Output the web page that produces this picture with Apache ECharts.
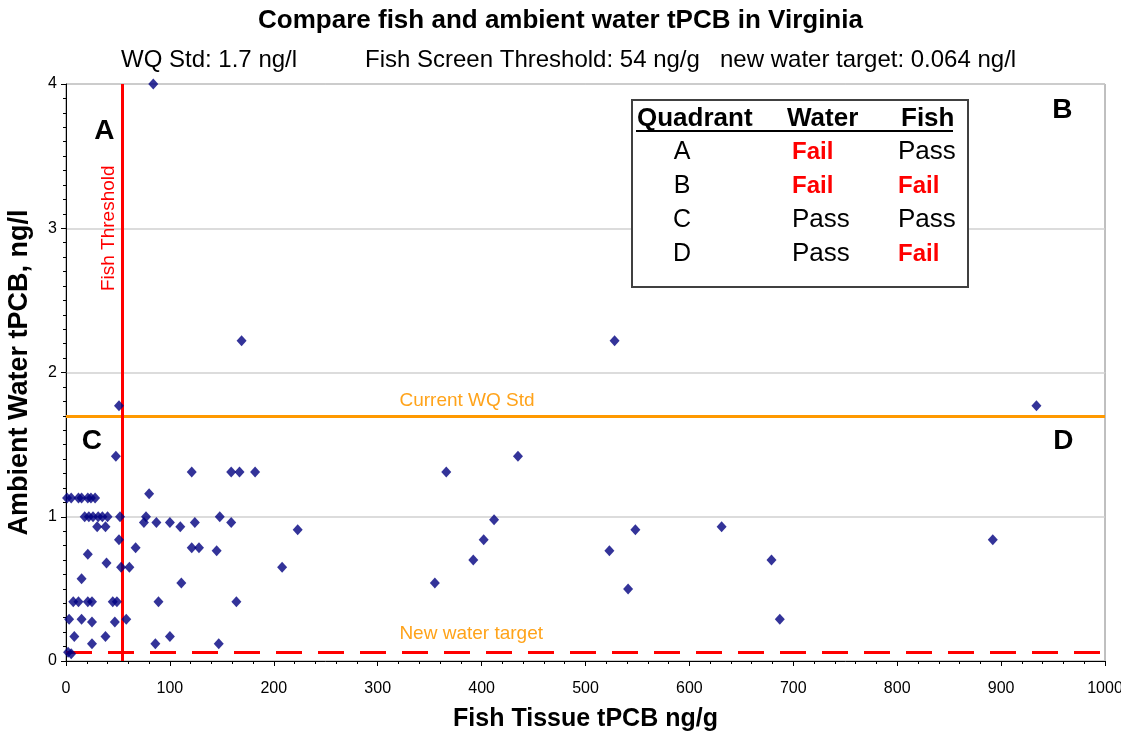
<!DOCTYPE html>
<html>
<head>
<meta charset="utf-8">
<title>Compare fish and ambient water tPCB in Virginia</title>
<script src="https://cdn.jsdelivr.net/npm/echarts@6/dist/echarts.min.js"></script>
<style>
  html, body { margin: 0; padding: 0; background: #fff; }
  #chart { width: 1121px; height: 738px; }
</style>
</head>
<body>
<div id="chart"></div>
<script>
// fish tissue tPCB (ng/g) and ambient water tPCB (ng/l), one pair per site
const fishTissue = [
  84, 169, 528, 51, 934, 48, 435, 121, 159, 167, 182, 366, 80,
  1, 5, 12, 15, 21, 24, 28,
  18, 22, 26, 31, 35, 40, 52, 77, 148, 412,
  75, 87, 100, 124, 159,
  30, 38, 110, 631,
  223, 548,
  51, 402, 892,
  67, 121, 128,
  145, 523,
  21, 392, 679, 39,
  53, 61, 208,
  15, 111, 355, 541,
  7, 12, 21, 25, 45, 49, 89, 164,
  3, 15, 58, 687, 25, 47,
  8, 38, 100,
  25, 86, 147,
  2, 5
];
const waterTpcb = [
  4.0, 2.22, 2.22, 1.77, 1.77, 1.42, 1.42, 1.31, 1.31, 1.31, 1.31, 1.31, 1.16,
  1.13, 1.13, 1.13, 1.13, 1.13, 1.13, 1.13,
  1.0, 1.0, 1.0, 1.0, 1.0, 1.0, 1.0, 1.0, 1.0, 0.98,
  0.96, 0.96, 0.96, 0.96, 0.96,
  0.93, 0.93, 0.93, 0.93,
  0.91, 0.91,
  0.84, 0.84, 0.84,
  0.785, 0.785, 0.785,
  0.765, 0.765,
  0.74, 0.70, 0.70, 0.68,
  0.65, 0.65, 0.65,
  0.57, 0.54, 0.54, 0.50,
  0.41, 0.41, 0.41, 0.41, 0.41, 0.41, 0.41, 0.41,
  0.29, 0.29, 0.29, 0.29, 0.27, 0.27,
  0.17, 0.17, 0.17,
  0.12, 0.12, 0.12,
  0.06, 0.05
];

const wqStd = 1.7;          // ng/l
const fishThreshold = 54;   // ng/g
const waterTarget = 0.064;  // ng/l

const xTicks = { min: 0, max: 1000, interval: 100 };
const yTicks = { min: 0, max: 4, interval: 1 };

// quadrant letters [name, fish, water]
const quadrants = [
  ["A", 37, 3.67],
  ["B", 959, 3.82],
  ["C", 25, 1.525],
  ["D", 960, 1.525]
];

const tableHeader = ["Quadrant", "Water", "Fish"];
const tableRows = [
  ["A", "Fail", "Pass"],
  ["B", "Fail", "Fail"],
  ["C", "Pass", "Pass"],
  ["D", "Pass", "Fail"]
];

const FONT = "'Liberation Sans', Arial, sans-serif";
const RED = "#FF0000";
const ORANGE = "#FF9900";

const chart = echarts.init(document.getElementById("chart"));

// table in the upper right
const tableGraphics = [
  {
    type: "rect",
    shape: { x: 632, y: 100, width: 336, height: 187 },
    style: { fill: "#fff", stroke: "#404040", lineWidth: 2 },
    z: 10
  },
  {
    type: "line",
    shape: { x1: 636, y1: 131, x2: 953, y2: 131 },
    style: { stroke: "#000", lineWidth: 2 },
    z: 11
  }
];
const headerX = [637, 787, 901];
tableHeader.forEach((h, i) => {
  tableGraphics.push({
    type: "text", x: headerX[i], y: 119, z: 11,
    style: { text: h, font: "bold 26px " + FONT, fill: "#000", verticalAlign: "middle" }
  });
});
const rowY = [152, 186, 220, 254];
tableRows.forEach((r, i) => {
  tableGraphics.push({
    type: "text", x: 682, y: rowY[i], z: 11,
    style: { text: r[0], font: "25px " + FONT, fill: "#000", align: "center", verticalAlign: "middle" }
  });
  [r[1], r[2]].forEach((v, j) => {
    const fail = v === "Fail";
    tableGraphics.push({
      type: "text", x: j === 0 ? 792 : 898, y: rowY[i], z: 11,
      style: {
        text: v,
        font: fail ? "bold 24px " + FONT : "26px " + FONT,
        fill: fail ? RED : "#000",
        verticalAlign: "middle"
      }
    });
  });
});

const option = {
  animation: false,
  backgroundColor: "#fff",
  title: {
    text: "Compare fish and ambient water tPCB in Virginia",
    left: "center",
    top: 3,
    textStyle: { fontFamily: FONT, fontSize: 26, fontWeight: "bold", color: "#000" }
  },
  graphic: [
    {
      type: "text", x: 121, y: 60,
      style: { text: "WQ Std: 1.7 ng/l", font: "24px " + FONT, fill: "#000", verticalAlign: "middle" }
    },
    {
      type: "text", x: 365, y: 60,
      style: { text: "Fish Screen Threshold: 54 ng/g", font: "24px " + FONT, fill: "#000", verticalAlign: "middle" }
    },
    {
      type: "text", x: 720, y: 60,
      style: { text: "new water target: 0.064 ng/l", font: "24px " + FONT, fill: "#000", verticalAlign: "middle" }
    }
  ].concat(tableGraphics),
  grid: {
    left: 66,
    right: 16,
    top: 84,
    bottom: 77,
    outerBoundsMode: "none",
    containLabel: false,
    show: true,
    borderColor: "#808080",
    borderWidth: 1
  },
  xAxis: {
    type: "value",
    min: xTicks.min,
    max: xTicks.max,
    interval: xTicks.interval,
    name: "Fish Tissue tPCB ng/g",
    nameLocation: "middle",
    nameGap: 46,
    nameTextStyle: { fontFamily: FONT, fontSize: 25, fontWeight: "bold", color: "#000" },
    axisLine: { lineStyle: { color: "#000", width: 1 } },
    axisTick: { length: 5, lineStyle: { color: "#000" } },
    minorTick: { show: true, splitNumber: 5, length: 3, lineStyle: { color: "#000" } },
    axisLabel: { fontFamily: FONT, fontSize: 16, color: "#000", margin: 20, formatter: v => String(v) },
    splitLine: { show: false }
  },
  yAxis: {
    type: "value",
    min: yTicks.min,
    max: yTicks.max,
    interval: yTicks.interval,
    name: "Ambient Water tPCB, ng/l",
    nameLocation: "middle",
    nameGap: 33,
    nameTextStyle: { fontFamily: FONT, fontSize: 27, fontWeight: "bold", color: "#000" },
    axisLine: { show: true, lineStyle: { color: "#000", width: 1 } },
    axisTick: { show: true, length: 5, lineStyle: { color: "#000" } },
    minorTick: { show: true, splitNumber: 10, length: 3, lineStyle: { color: "#000" } },
    axisLabel: { fontFamily: FONT, fontSize: 16, color: "#000", margin: 9 },
    splitLine: { show: true, lineStyle: { color: "#d0d0d0", width: 1.5 } }
  },
  series: [
    {
      name: "thresholds",
      type: "scatter",
      data: [],
      z: 3,
      markLine: {
        silent: true,
        symbol: ["none", "none"],
        label: { show: false },
        data: [
          [{ coord: [0, wqStd] }, { coord: [1000, wqStd] }],
          [{ coord: [0, waterTarget] }, { coord: [1000, waterTarget] }],
          [{ coord: [fishThreshold, 0] }, { coord: [fishThreshold, 4] }]
        ].map((d, i) => {
          const styles = [
            { color: ORANGE, width: 3, type: "solid" },
            { color: RED, width: 3, type: [26, 16] },
            { color: RED, width: 3, type: "solid" }
          ];
          d[0].lineStyle = styles[i];
          return d;
        })
      },
      markPoint: {
        silent: true,
        symbol: "circle",
        symbolSize: 0,
        data: [
          {
            name: "Current WQ Std", coord: [386, wqStd],
            label: { position: "top", distance: 6, color: "#FFA31A", fontSize: 19 }
          },
          {
            name: "New water target", coord: [390, waterTarget],
            label: { position: "top", distance: 9, color: "#FFA31A", fontSize: 19 }
          },
          {
            name: "Fish Threshold", coord: [fishThreshold, 3.0],
            label: { position: "inside", rotate: 90, offset: [0, -13], color: RED, fontSize: 19 }
          }
        ].concat(quadrants.map(q => ({
          name: q[0], coord: [q[1], q[2]],
          label: { position: "inside", color: "#000", fontSize: 28, fontWeight: "bold" }
        }))),
        label: { show: true, formatter: "{b}", fontFamily: FONT }
      }
    },
    {
      name: "Sites",
      type: "scatter",
      symbol: "diamond",
      symbolSize: [10, 11],
      itemStyle: { color: "#000080" },
      z: 5,
      data: fishTissue.map((f, i) => [f, waterTpcb[i]])
    }
  ]
};

chart.setOption(option);
</script>
</body>
</html>
